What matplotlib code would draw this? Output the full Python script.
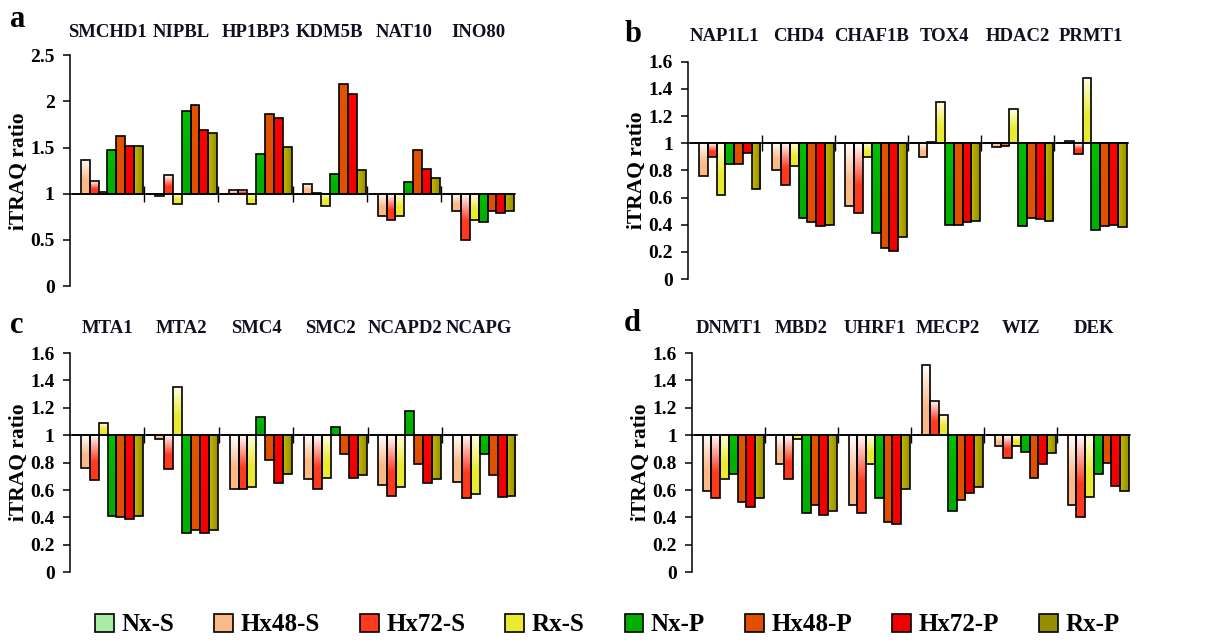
import matplotlib
matplotlib.use("Agg")
import matplotlib.pyplot as plt
import numpy as np
from matplotlib.patches import Patch
from matplotlib.transforms import blended_transform_factory

plt.rcParams['font.family'] = ['Liberation Serif', 'DejaVu Serif']
plt.rcParams['font.weight'] = 'bold'

series = ["Nx-S", "Hx48-S", "Hx72-S", "Rx-S", "Nx-P", "Hx48-P", "Hx72-P", "Rx-P"]

# panel a
genes_a = ["SMCHD1", "NIPBL", "HP1BP3", "KDM5B", "NAT10", "INO80"]
vals_a = [
    [1, 1.37, 1.14, 1.02, 1.47, 1.63, 1.52, 1.52],
    [1, 0.98, 1.20, 0.89, 1.90, 1.96, 1.69, 1.66],
    [1, 1.04, 1.04, 0.89, 1.43, 1.86, 1.82, 1.51],
    [1, 1.11, 1.01, 0.87, 1.21, 2.19, 2.08, 1.26],
    [1, 0.76, 0.72, 0.76, 1.13, 1.47, 1.27, 1.17],
    [1, 0.81, 0.50, 0.72, 0.70, 0.81, 0.79, 0.81],
]
# panel b
genes_b = ["NAP1L1", "CHD4", "CHAF1B", "TOX4", "HDAC2", "PRMT1"]
vals_b = [
    [1, 0.76, 0.90, 0.62, 0.85, 0.85, 0.93, 0.66],
    [1, 0.80, 0.69, 0.83, 0.45, 0.42, 0.39, 0.40],
    [1, 0.54, 0.485, 0.90, 0.34, 0.23, 0.21, 0.31],
    [1, 0.90, 1.01, 1.30, 0.40, 0.40, 0.42, 0.43],
    [1, 0.97, 0.98, 1.25, 0.39, 0.45, 0.44, 0.43],
    [1, 1.02, 0.92, 1.48, 0.36, 0.39, 0.40, 0.38],
]
# panel c
genes_c = ["MTA1", "MTA2", "SMC4", "SMC2", "NCAPD2", "NCAPG"]
vals_c = [
    [1, 0.76, 0.67, 1.09, 0.41, 0.40, 0.39, 0.41],
    [1, 0.97, 0.75, 1.35, 0.29, 0.31, 0.29, 0.31],
    [1, 0.61, 0.61, 0.62, 1.13, 0.82, 0.65, 0.72],
    [1, 0.68, 0.61, 0.69, 1.06, 0.86, 0.69, 0.71],
    [1, 0.64, 0.56, 0.62, 1.18, 0.79, 0.65, 0.68],
    [1, 0.66, 0.54, 0.57, 0.86, 0.71, 0.55, 0.56],
]
# panel d
genes_d = ["DNMT1", "MBD2", "UHRF1", "MECP2", "WIZ", "DEK"]
vals_d = [
    [1, 0.59, 0.54, 0.68, 0.72, 0.51, 0.475, 0.54],
    [1, 0.79, 0.68, 0.97, 0.43, 0.49, 0.42, 0.45],
    [1, 0.49, 0.43, 0.79, 0.54, 0.37, 0.35, 0.61],
    [1, 1.51, 1.25, 1.15, 0.45, 0.53, 0.58, 0.62],
    [1, 0.92, 0.835, 0.92, 0.88, 0.69, 0.79, 0.87],
    [1, 0.49, 0.40, 0.55, 0.72, 0.80, 0.63, 0.59],
]

ticks_a = [0, 0.5, 1, 1.5, 2, 2.5]
ticks_bcd = [0, 0.2, 0.4, 0.6, 0.8, 1, 1.2, 1.4, 1.6]

# (light top colour, full colour) per series
colors = [
    ("#ffffff", "#a8eca8"),
    ("#ffffff", "#fbb989"),
    ("#ffffff", "#ff3a1e"),
    ("#ffffe8", "#eaea30"),
    ("#00c000", "#00b000"),
    ("#e25400", "#e05000"),
    ("#ff0000", "#f20000"),
    ("#c4b800", "#968e00"),
]


def grad_img(c_top, c_bot, n=64):
    a = np.array(matplotlib.colors.to_rgb(c_top))
    b = np.array(matplotlib.colors.to_rgb(c_bot))
    t = np.clip(np.linspace(0, 1, n) / 0.6, 0, 1)[:, None]
    return (a + (b - a) * t)[:, None, :]


def panel(ax, genes, vals, ticks, letter, letter_xy, title_y):
    w = 0.12
    off = 0.025
    for g, row in enumerate(vals):
        for i, v in enumerate(row):
            x0 = g + off + i * w
            bar = ax.bar(x0, v - 1, width=w, bottom=1, align='edge',
                         facecolor='none', edgecolor='black', linewidth=1.2, zorder=3)[0]
            if abs(v - 1) < 1e-9:
                continue
            top, bot = max(v, 1), min(v, 1)
            if i == 7:
                # olive bar shades left to right
                a = np.array(matplotlib.colors.to_rgb(colors[i][0]))
                b = np.array(matplotlib.colors.to_rgb(colors[i][1]))
                t = np.linspace(0, 1, 32)[None, :, None]
                img = a + (b - a) * t
            else:
                img = grad_img(*colors[i])
            im = ax.imshow(img, extent=[x0, x0 + w, bot, top], aspect='auto',
                           origin='upper', zorder=2, interpolation='bilinear')
            im.set_clip_path(bar)
    ax.set_xlim(0, 6)
    ax.set_ylim(0, ticks[-1])
    ax.spines['top'].set_visible(False)
    ax.spines['right'].set_visible(False)
    ax.spines['bottom'].set_position(('data', 1))
    ax.spines['left'].set_linewidth(1.1)
    ax.spines['bottom'].set_linewidth(1.1)
    ax.set_xticks([1, 2, 3, 4, 5])
    ax.set_xticklabels([])
    ax.tick_params(axis='x', direction='inout', length=11, width=1)
    ax.tick_params(axis='y', direction='out', length=5, width=1.1, pad=6)
    ax.set_yticks(ticks)
    ax.set_yticklabels([f"{t:g}" for t in ticks], fontsize=14, fontweight='bold')
    ax.set_ylabel("iTRAQ ratio", fontsize=15.5, fontweight='bold', labelpad=1)
    tr = blended_transform_factory(ax.transData, ax.transAxes)
    for g, name in enumerate(genes):
        ax.text(g + 0.5, title_y, name, transform=tr, ha='center', va='center',
                fontsize=13.5, fontweight='bold', color='#101020')
    ax.figure.text(letter_xy[0], letter_xy[1], letter, fontsize=22,
                   fontweight='bold', ha='left', va='center')


fig = plt.figure(figsize=(12.27, 6.43), dpi=100)
ax_a = fig.add_axes([0.057, 0.555, 0.363, 0.359])
ax_b = fig.add_axes([0.561, 0.566, 0.358, 0.338])
ax_c = fig.add_axes([0.057, 0.110, 0.364, 0.341])
ax_d = fig.add_axes([0.564, 0.110, 0.357, 0.341])

panel(ax_a, genes_a, vals_a, ticks_a, "a", (0.008, 0.970), 1.10)
panel(ax_b, genes_b, vals_b, ticks_bcd, "b", (0.509, 0.946), 1.115)
panel(ax_c, genes_c, vals_c, ticks_bcd, "c", (0.008, 0.494), 1.11)
panel(ax_d, genes_d, vals_d, ticks_bcd, "d", (0.508, 0.497), 1.114)

handles = [Patch(facecolor=c[1], edgecolor='black', linewidth=1.2) for c in colors]
fig.legend(handles, series, loc='center', bbox_to_anchor=(0.495, 0.028), ncol=8,
           frameon=False, handlelength=0.75, handleheight=0.75,
           handletextpad=0.3, columnspacing=1.6,
           prop={'weight': 'bold', 'size': 18})

fig.savefig("out.png", dpi=100)
